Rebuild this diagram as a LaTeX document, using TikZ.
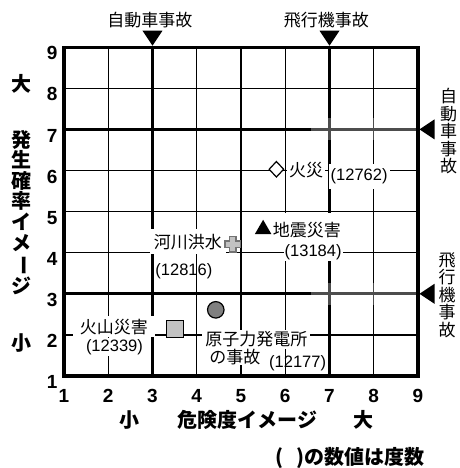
\documentclass[tikz,border=0pt]{standalone}
\usepackage{fontspec}
\setmainfont{Liberation Sans}
\newfontfamily\jp{Noto Sans CJK JP}
\usetikzlibrary{shapes,positioning}

\definecolor{markgrey}{gray}{0.76}
\definecolor{darkmark}{gray}{0.5}
\definecolor{crossedge}{gray}{0.45}

\tikzset{
  thinline/.style={line width=1.2pt},
  heavyline/.style={line width=3.3pt},
  ticknum/.style={font=\bfseries\fontsize{19}{19}\selectfont,inner sep=0pt},
  axlabel/.style={font=\jp\bfseries\fontsize{20}{20}\selectfont,text height=17.6pt,text depth=2.4pt,inner sep=0pt},
  ytitle/.style={font=\jp\bfseries\fontsize{20}{20.6}\selectfont,inner sep=0pt,align=center},
  vlabel/.style={font=\jp\fontsize{17}{17.5}\selectfont,inner sep=0pt,align=center},
  jlab/.style={font=\jp\fontsize{17}{17}\selectfont,text height=15pt,text depth=2pt,inner sep=0pt},
  numlab/.style={font=\fontsize{16.5}{16.5}\selectfont,text height=12pt,text depth=3.5pt,inner sep=0pt},
  wbox/.style={fill=white}
}

\begin{document}
\begin{tikzpicture}[x=44.25pt,y=41.1pt]
		\useasboundingbox (-0.446,-1.238) rectangle (9.927,10.148);
		\foreach \i in {2,4,5,6,8} {
			\draw[thinline] (\i,1) -- (\i,9);
			\draw[thinline] (1,\i) -- (9,\i);
		}
		\foreach \i in {3,7} {
			\draw[heavyline] (\i,1) -- (\i,9);
			\draw[heavyline] (1,\i) -- (9,\i);
		}
		\fill[white,opacity=.3] (6.58,6.74) rectangle (8.96,7.28);
		\fill[white,opacity=.3] (6.58,2.73) rectangle (8.96,3.26);
		\draw[heavyline] (1,1) rectangle (9,9);
		\foreach \i in {1,...,9} {
			\node[ticknum] (xtick\i) at (\i,0.51) {\i};
			\node[ticknum] (ytick\i) at (0.73,\i-0.15) {\i};
		}
		\fill ([yshift=1.5pt]3,9) -- ++(-10pt,15pt) -- ++(20pt,0) -- cycle;
		\fill ([yshift=1.5pt]7,9) -- ++(-10pt,15pt) -- ++(20pt,0) -- cycle;
		\fill ([xshift=1.5pt]9,7) -- ++(15pt,10pt) -- ++(0,-20pt) -- cycle;
		\fill ([xshift=1.5pt]9,3) -- ++(15pt,10pt) -- ++(0,-20pt) -- cycle;
		\node[jlab] (carTop) at (2.94,9.67) {自動車事故};
		\node[jlab] (planeTop) at (6.93,9.66) {飛行機事故};
		\node[vlabel] (carSide) at (9.69,6.95) {自\\動\\車\\事\\故};
		\node[vlabel] (planeSide) at (9.66,2.97) {飛\\行\\機\\事\\故};
		\node[axlabel] (yBig) at (0.04,8.10) {大};
		\node[ytitle] (yTitle) at (0.03,4.98) {発\\生\\確\\率\\イ\\メ\\\rotatebox[origin=c]{-90}{ー}\\ジ};
		\node[axlabel] (ySmall) at (0.04,1.80) {小};
		\node[axlabel] (xSmall) at (2.49,-0.07) {小};
		\node[axlabel] (xTitle) at (5.14,-0.07) {危険度イメージ};
		\node[axlabel] (xBig) at (7.76,-0.07) {大};
		\node[axlabel] (note) at (7.46,-0.97) {(\hspace{13pt})の数値は度数};
		\node[jlab,wbox,inner xsep=2pt,inner ysep=3pt] (fireLab) at (6.47,6.01) {火災};
		\node[numlab,wbox,inner xsep=2pt,inner ysep=5pt] (fireNum) at (7.67,5.85) {(12762)};
		\node[jlab,wbox,inner xsep=29pt,inner ysep=8.5pt] (quakeLab) at (6.49,4.55) {地震災害};
		\node[numlab,wbox,inner xsep=1pt,inner ysep=0.5pt] (quakeNum) at (6.63,4.0) {(13184)};
		\node[jlab,wbox,inner xsep=4pt,inner ysep=4pt] (floodLab) at (3.80,4.27) {河川洪水};
		\node[numlab] (floodNum) at (3.71,3.56) {(12816)};
		\node[jlab,wbox,inner xsep=7pt,inner ysep=2pt] (volcLab) at (2.13,2.20) {火山災害};
		\node[numlab,wbox,inner xsep=1.5pt,inner ysep=1.5pt] (volcNum) at (2.14,1.70) {(12339)};
		\node[jlab,wbox,inner xsep=3pt,inner ysep=1pt] (nukeLab) at (5.35,1.89) {原子力発電所};
		\node[jlab,wbox,inner xsep=2pt,inner ysep=0pt] (nukeLabB) at (4.86,1.47) {の事故};
		\node[numlab] (nukeNum) at (6.28,1.31) {(12177)};
		\node[diamond,draw,fill=white,line width=1.2pt,minimum width=15pt,minimum height=16pt,inner sep=0pt] (fire) at (5.8,6.03) {};
		\node[regular polygon,regular polygon sides=3,fill=black,minimum size=19pt,inner sep=0pt] (quake) at (5.5,4.57) {};
		\filldraw[fill=markgrey,draw=crossedge,line width=1.5pt] (4.81,4.21) ++(-3.2pt,-7.8pt) -- ++(6.4pt,0) -- ++(0,4.6pt) -- ++(4.6pt,0) -- ++(0,6.4pt) -- ++(-4.6pt,0) -- ++(0,4.6pt) -- ++(-6.4pt,0) -- ++(0,-4.6pt) -- ++(-4.6pt,0) -- ++(0,-6.4pt) -- ++(4.6pt,0) -- cycle;
		\node[rectangle,draw,fill=markgrey,line width=1.2pt,minimum size=17pt,inner sep=0pt] (volcano) at (3.51,2.14) {};
		\node[circle,draw,fill=darkmark,line width=1.2pt,minimum size=16.5pt,inner sep=0pt] (nuke) at (4.43,2.61) {};
	\end{tikzpicture}
\end{document}
